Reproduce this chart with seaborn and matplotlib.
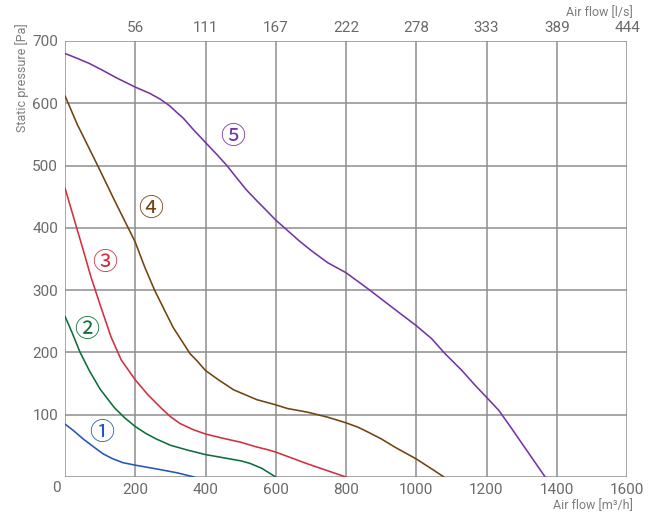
import numpy as np
import pandas as pd
import matplotlib
matplotlib.use("Agg")
import matplotlib.pyplot as plt
import seaborn as sns

# Fan curves: air flow [m3/h] vs static pressure [Pa]
flow_1 = [0, 23, 52, 80, 109, 137, 165, 200, 260, 317, 368]
pres_1 = [85, 75, 61, 49, 37, 29, 23, 19, 13, 7, 0]

flow_2 = [0, 20, 43, 70, 100, 141, 170, 200, 230, 260, 300, 350, 400, 450, 500, 526, 560, 600]
pres_2 = [258, 232, 200, 170, 141, 111, 95, 81, 70, 61, 51, 43, 36, 31, 26, 22, 14, 0]

flow_3 = [0, 26, 50, 74, 102, 131, 160, 200, 236, 275, 300, 327, 365, 400, 451, 499, 547, 576,
          600, 691, 800]
pres_3 = [464, 414, 368, 321, 273, 225, 188, 156, 132, 110, 97, 86, 76, 69, 62, 56, 48, 44,
          40, 21, 0]

flow_4 = [0, 35, 93, 141, 179, 200, 227, 255, 284, 308, 332, 356, 375, 400, 437, 480, 547, 599,
          633, 691, 748, 800, 834, 863, 901, 939, 1000, 1044, 1079]
pres_4 = [612, 566, 500, 444, 401, 377, 337, 300, 267, 240, 219, 198, 187, 171, 156, 140, 124,
          116, 110, 104, 96, 87, 80, 72, 61, 48, 29, 13, 0]

flow_5 = [0, 31, 69, 107, 146, 200, 241, 270, 298, 317, 337, 365, 400, 432, 461, 489, 518, 547,
          575, 599, 633, 667, 700, 748, 800, 863, 930, 1000, 1044, 1082, 1130, 1168, 1200, 1235,
          1269, 1302, 1367]
pres_5 = [680, 673, 664, 653, 641, 626, 616, 607, 596, 586, 576, 558, 537, 518, 500, 480, 460,
          443, 427, 413, 396, 379, 364, 344, 328, 302, 273, 243, 222, 198, 171, 147, 128, 107,
          80, 53, 0]

curve_names = ["①", "②", "③", "④", "⑤"]
curve_colors = ["#2256b8", "#0e6d3b", "#d0303c", "#70430f", "#7434a6"]
# label anchor points for each curve (m3/h, Pa)
label_flow = [104, 63, 114, 243, 478]
label_pres = [70, 236, 343, 431, 546]

x_ticks = [0, 200, 400, 600, 800, 1000, 1200, 1400, 1600]
x_tick_labels = ["", "200", "400", "600", "800", "1000", "1200", "1400", "1600"]
top_tick_labels = ["", "56", "111", "167", "222", "278", "333", "389", "444"]
y_ticks = [0, 100, 200, 300, 400, 500, 600, 700]
y_tick_labels = ["", "100", "200", "300", "400", "500", "600", "700"]

flows = [flow_1, flow_2, flow_3, flow_4, flow_5]
pressures = [pres_1, pres_2, pres_3, pres_4, pres_5]
frames = []
for name, f, p in zip(curve_names, flows, pressures):
    frames.append(pd.DataFrame({"flow": f, "pressure": p, "curve": name}))
df = pd.concat(frames, ignore_index=True)

sns.set_theme(style="white")
plt.rcParams["font.family"] = ["Roboto", "DejaVu Sans"]
plt.rcParams["lines.solid_joinstyle"] = "round"

W, H = 649, 514
fig = plt.figure(figsize=(W / 100, H / 100), dpi=100)
ax = fig.add_axes([65 / W, 1 - 477 / H, (627 - 65) / W, (477 - 41) / H])

grid_color = "#8e8e8e"
tick_color = "#6a6a6a"
title_color = "#7d7d7d"

sns.lineplot(data=df, x="flow", y="pressure", hue="curve", units="curve",
             estimator=None, sort=False, palette=dict(zip(curve_names, curve_colors)),
             legend=False, linewidth=1.15, ax=ax, zorder=3)

ax.set_xlim(0, 1600)
ax.set_ylim(0, 700)
ax.set_xticks(x_ticks)
ax.set_xticklabels(x_tick_labels)
ax.set_yticks(y_ticks)
ax.set_yticklabels(y_tick_labels)
ax.grid(True, color=grid_color, linewidth=1.1)
ax.set_axisbelow(True)
for s in ax.spines.values():
    s.set_visible(False)
ax.tick_params(axis="both", length=0, labelsize=11, labelcolor=tick_color)
ax.tick_params(axis="x", pad=4)
ax.tick_params(axis="y", pad=5)
ax.set_xlabel("")
ax.set_ylabel("")

# secondary scale in l/s along the top
top = ax.secondary_xaxis("top")
top.set_xticks(x_ticks)
top.set_xticklabels(top_tick_labels)
top.tick_params(length=0, labelsize=11, labelcolor=tick_color, pad=4)
top.spines["top"].set_visible(False)

# shared origin label
fig.text(56 / W, 1 - 488 / H, "0", ha="center", va="center", fontsize=11, color=tick_color)

fig.text(633 / W, 1 - 13 / H, "Air flow [l/s]", ha="right", va="center", fontsize=9, color=title_color)
fig.text(633 / W, 1 - 506 / H, "Air flow [m³/h]", ha="right", va="center", fontsize=9, color=title_color)
fig.text(22 / W, 1 - 23 / H, "Static pressure [Pa]", ha="center", va="top", rotation=90,
         fontsize=9, color=title_color)

for name, c, lx, ly in zip(curve_names, curve_colors, label_flow, label_pres):
    ax.text(lx, ly, name, ha="center", va="center", fontsize=18, color=c,
            family=["Noto Sans CJK JP", "DejaVu Sans"], zorder=4)

fig.savefig("out.png", dpi=100, facecolor="white")
